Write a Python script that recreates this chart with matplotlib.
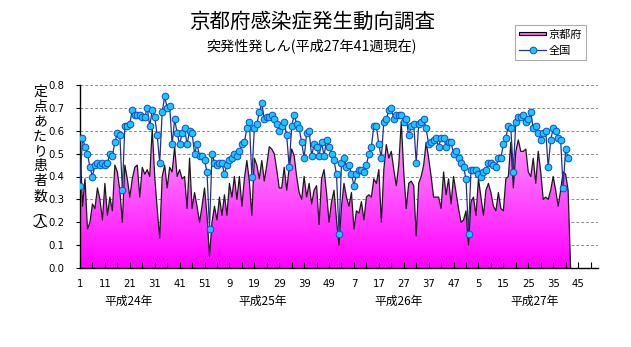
import numpy as np
import matplotlib
matplotlib.use("Agg")
import matplotlib.pyplot as plt
import matplotlib.transforms as mtrans
from matplotlib.colors import LinearSegmentedColormap
from matplotlib.lines import Line2D
from matplotlib.patches import Patch, Rectangle
from matplotlib.legend_handler import HandlerPatch

plt.rcParams['font.family'] = ['Noto Sans CJK JP', 'DejaVu Sans']

# 京都府 (per sentinel), weeks from H24 week 1 to H27 week 41 (last 0 closes the area)
kyoto = [0.55, 0.27, 0.39, 0.17, 0.20, 0.28, 0.26, 0.35, 0.30, 0.21,
         0.37, 0.23, 0.31, 0.25, 0.45, 0.42, 0.34, 0.20, 0.45, 0.39,
         0.31, 0.39, 0.44, 0.45, 0.31, 0.44, 0.41, 0.43, 0.40, 0.61,
         0.40, 0.26, 0.13, 0.40, 0.45, 0.35, 0.44, 0.42, 0.53, 0.40,
         0.43, 0.39, 0.40, 0.26, 0.48, 0.26, 0.33, 0.27, 0.20, 0.27,
         0.35, 0.23, 0.05, 0.20, 0.27, 0.21, 0.31, 0.23, 0.32, 0.23,
         0.37, 0.31, 0.40, 0.30, 0.40, 0.27, 0.39, 0.47, 0.38, 0.23,
         0.48, 0.45, 0.39, 0.47, 0.38, 0.45, 0.53, 0.52, 0.50, 0.43,
         0.35, 0.35, 0.44, 0.34, 0.44, 0.52, 0.49, 0.40, 0.33, 0.30,
         0.40, 0.31, 0.37, 0.28, 0.34, 0.36, 0.19, 0.39, 0.43, 0.33,
         0.20, 0.29, 0.34, 0.21, 0.10, 0.27, 0.37, 0.31, 0.27, 0.33,
         0.17, 0.25, 0.24, 0.29, 0.21, 0.31, 0.32, 0.31, 0.39, 0.37,
         0.43, 0.20, 0.43, 0.54, 0.48, 0.51, 0.43, 0.36, 0.45, 0.64,
         0.42, 0.26, 0.37, 0.38, 0.36, 0.14, 0.37, 0.40, 0.45, 0.55,
         0.48, 0.40, 0.31, 0.31, 0.31, 0.26, 0.42, 0.32, 0.39, 0.28,
         0.40, 0.33, 0.26, 0.20, 0.21, 0.25, 0.10, 0.29, 0.31, 0.23,
         0.39, 0.31, 0.23, 0.34, 0.37, 0.33, 0.27, 0.25, 0.33, 0.26,
         0.25, 0.39, 0.40, 0.55, 0.35, 0.51, 0.56, 0.51, 0.51, 0.52,
         0.42, 0.40, 0.48, 0.37, 0.51, 0.42, 0.30, 0.31, 0.30, 0.34,
         0.40, 0.34, 0.27, 0.34, 0.42, 0.41, 0.34, 0.0]

# 全国
zenkoku = [0.36, 0.57, 0.53, 0.50, 0.44, 0.40, 0.45, 0.46, 0.45, 0.46,
           0.45, 0.46, 0.50, 0.49, 0.55, 0.59, 0.58, 0.34, 0.62, 0.62,
           0.63, 0.69, 0.67, 0.67, 0.67, 0.66, 0.66, 0.70, 0.62, 0.69,
           0.66, 0.58, 0.46, 0.68, 0.75, 0.70, 0.71, 0.54, 0.65, 0.59,
           0.54, 0.59, 0.61, 0.54, 0.60, 0.59, 0.50, 0.54, 0.49, 0.49,
           0.47, 0.42, 0.17, 0.50, 0.46, 0.45, 0.46, 0.46, 0.41, 0.45,
           0.47, 0.48, 0.50, 0.49, 0.51, 0.54, 0.55, 0.61, 0.64, 0.40,
           0.61, 0.63, 0.68, 0.72, 0.65, 0.66, 0.66, 0.67, 0.65, 0.63,
           0.60, 0.62, 0.64, 0.58, 0.44, 0.62, 0.67, 0.63, 0.61, 0.55,
           0.48, 0.59, 0.60, 0.49, 0.54, 0.53, 0.49, 0.55, 0.49, 0.56,
           0.53, 0.50, 0.47, 0.41, 0.15, 0.46, 0.48, 0.44, 0.45, 0.41,
           0.36, 0.41, 0.43, 0.43, 0.42, 0.45, 0.50, 0.53, 0.62, 0.62,
           0.54, 0.48, 0.64, 0.65, 0.69, 0.70, 0.65, 0.67, 0.67, 0.67,
           0.64, 0.65, 0.58, 0.62, 0.63, 0.46, 0.63, 0.64, 0.65, 0.61,
           0.54, 0.55, 0.56, 0.57, 0.53, 0.57, 0.57, 0.53, 0.55, 0.55,
           0.50, 0.51, 0.48, 0.46, 0.44, 0.39, 0.15, 0.43, 0.43, 0.43,
           0.41, 0.40, 0.42, 0.43, 0.46, 0.46, 0.45, 0.44, 0.48, 0.48,
           0.54, 0.57, 0.62, 0.61, 0.42, 0.64, 0.66, 0.66, 0.67, 0.64,
           0.65, 0.68, 0.61, 0.62, 0.59, 0.56, 0.59, 0.60, 0.44, 0.56,
           0.61, 0.60, 0.57, 0.56, 0.35, 0.52, 0.48]

years = ['平成24年', '平成25年', '平成26年', '平成27年']
year_weeks = [52, 52, 52, 53]
year_label_x = [20.7, 74.5, 129.1, 183.7]
yticks = [0.0, 0.1, 0.2, 0.3, 0.4, 0.5, 0.6, 0.7, 0.8]

n_total = sum(year_weeks)
wk_k = np.arange(1, len(kyoto) + 1)
wk_z = np.arange(1, len(zenkoku) + 1)

# week-of-year labels
week_of_year = []
for n in year_weeks:
    week_of_year += list(range(1, n + 1))

W, H = 631, 347
fig = plt.figure(figsize=(W / 100, H / 100), dpi=100)
ax = fig.add_axes([80 / W, 1 - 268 / H, 518 / W, 183 / H])

# gradient area
cmap = LinearSegmentedColormap.from_list('pk', ['#ff00ff', '#ffd0ff'])
grad = np.linspace(0, 1, 256).reshape(-1, 1)
im = ax.imshow(grad, extent=[1, n_total, 0, 0.8], origin='lower', aspect='auto',
               cmap=cmap, zorder=1, interpolation='bilinear')
poly = ax.fill_between(wk_k, kyoto, 0, facecolor='none', edgecolor='none')
im.set_clip_path(poly.get_paths()[0], transform=ax.transData)
ax.plot(wk_k, kyoto, color='#1a1a1a', lw=0.9, zorder=3)

ax.plot(wk_z, zenkoku, '-o', color='#24308c', lw=0.9, ms=4.8,
        mfc='#20c4ff', mec='#0a50c8', mew=0.7, zorder=4)

ax.set_xlim(1, n_total)
ax.set_ylim(0, 0.8)
ax.set_yticks(yticks)
ax.set_yticklabels(['%.1f' % v for v in yticks], fontsize=7.3, family='DejaVu Sans')
for v in yticks[1:]:
    ax.axhline(v, color='#8c8c8c', lw=0.7, ls=(0, (3, 2)), zorder=0.5)

major = list(range(1, n_total + 1, 10))
ax.set_xticks(major)
ax.set_xticklabels([str(week_of_year[i - 1]) for i in major], fontsize=7.3, family='DejaVu Sans')
ax.set_xticks(list(range(1, n_total + 1, 5)), minor=True)
ax.tick_params(axis='x', which='both', direction='in', length=4, pad=8, width=0.8)
ax.tick_params(axis='y', direction='out', length=3, pad=8, width=0.8)

for s in ['top', 'right']:
    ax.spines[s].set_visible(False)
for s in ['left', 'bottom']:
    ax.spines[s].set_linewidth(1.0)

trans = mtrans.blended_transform_factory(ax.transData, fig.transFigure)
for x, lab in zip(year_label_x, years):
    ax.text(x, 1 - 301 / H, lab, transform=trans, ha='center', va='center', fontsize=8.5)

fig.text(312 / W, 1 - 22 / H, '京都府感染症発生動向調査', ha='center', va='center', fontsize=14.8)
fig.text(312 / W, 1 - 47 / H, '突発性発しん(平成27年41週現在)', ha='center', va='center', fontsize=10.2)

# vertical y label, upright characters
fig.text(40 / W, 1 - 85 / H, '定\n点\nあ\nた\nり\n患\n者\n数', ha='center', va='top',
         fontsize=10, linespacing=1.08)
fig.text(40 / W, 1 - 222 / H, '︵\n人\n︶', ha='center', va='center',
         fontsize=10, linespacing=0.62)


def thin_bar(legend, orig_handle, xdescent, ydescent, width, height, fontsize):
    return Rectangle((-xdescent, -ydescent + height * 0.3), width, height * 0.4)


handles = [Patch(facecolor='#ff66ff', edgecolor='black', lw=0.8),
           Line2D([], [], color='#24308c', lw=0.9, marker='o', ms=4.8,
                  mfc='#20c4ff', mec='#0a50c8', mew=0.7)]
leg = fig.legend(handles, ['京都府', '全国'], loc='upper left',
                 bbox_to_anchor=(515 / W, 1 - 25 / H), fontsize=8, frameon=True,
                 fancybox=False, edgecolor='#999999', borderpad=0.4,
                 handlelength=2.4, handletextpad=0.2, labelspacing=0.55,
                 borderaxespad=0, handler_map={Patch: HandlerPatch(patch_func=thin_bar)})
leg.get_frame().set_linewidth(0.8)

fig.savefig('out.png', dpi=100)
